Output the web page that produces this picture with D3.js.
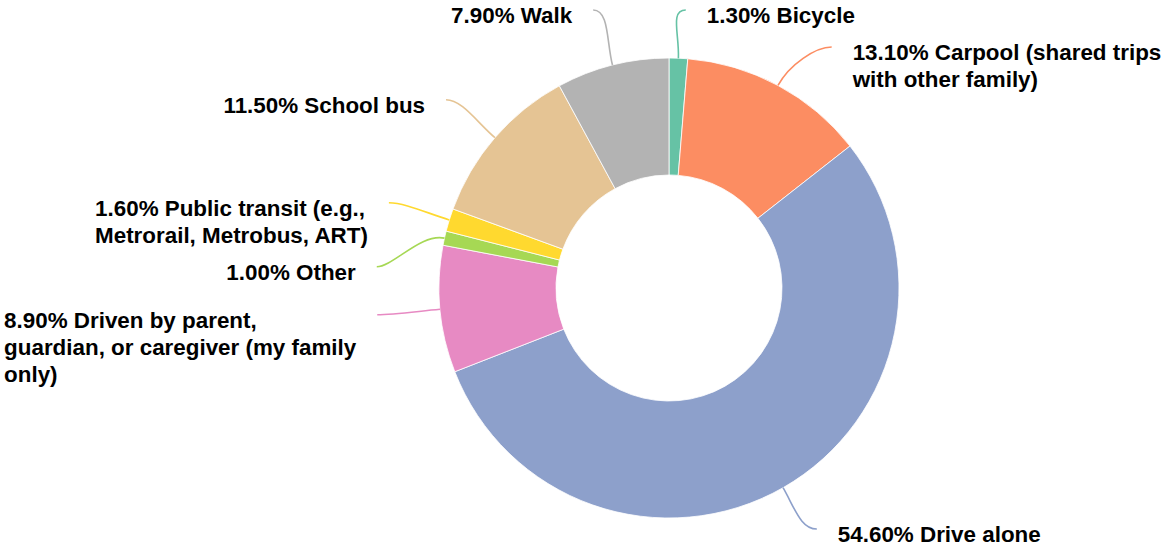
<html lang="en">
<head>
  <title>Mode of Travel</title>
  <meta charset="utf-8">
</head>

<script src="https://cdn.jsdelivr.net/npm/d3@7/dist/d3.min.js"></script>

<style>
  body { margin: 0; background: #fff; }
  .label { font-family: 'Liberation Sans', Arial, Helvetica, sans-serif; font-weight: bold; font-size: 22.4px; fill: #000; }
</style>

<body>
  <svg id = 'canvas' style = 'width: 1171px; height: 550px; display: block;'></svg>
</body>

<script>

// data (category names, broken where the labels wrap)
var categories = [['Bicycle'],
                  ['Carpool (shared trips', 'with other family)'],
                  ['Drive alone'],
                  ['Driven by parent,', 'guardian, or caregiver (my family', 'only)'],
                  ['Other'],
                  ['Public transit (e.g.,', 'Metrorail, Metrobus, ART)'],
                  ['School bus'],
                  ['Walk']];
var shares = [1.3, 13.1, 54.6, 8.9, 1.0, 1.6, 11.5, 7.9];
var colors = ['#66c2a5', '#fc8d62', '#8da0cb', '#e78ac3', '#a6d854', '#ffd92f', '#e5c494', '#b3b3b3'];

var cx = 669, cy = 288, r_outer = 230, r_inner = 113;
var r_label = 288, text_gap = 21, line_h = 27, pad = 10, top_min = 10, bottom_max = 542;

setup();

/*******************************************************************************/

function setup(){
  var svg = d3.select('#canvas');
  var rows = categories.map(function(c, i){ return { lines: c, share: shares[i], color: colors[i] } });

  var pie = d3.pie().sort(null).value(function(d){ return d.share });
  var arc = d3.arc().innerRadius(r_inner).outerRadius(r_outer);
  var arcs = pie(rows);

  var g = svg.append('g').attr('transform', 'translate(' +cx+ ',' +cy+ ')');

  g.selectAll('.slice').data(arcs).enter()
    .append('path').attr('class', 'slice')
    .attr('d', arc)
    .style('fill', function(d){ return d.data.color })
    .style('stroke', '#fff').style('stroke-width', 0.8);

  // label layout: leader ends on a ring, then pushed apart per side
  var labels = arcs.map(function(d){
    var mid = (d.startAngle + d.endAngle)/2;
    var side = Math.sin(mid) >= 0 ? 1 : -1;
    var lines = d.data.lines.slice();
    lines[0] = d3.format('.2f')(d.data.share) + '% ' + lines[0];
    return {
      d: d, mid: mid, side: side, lines: lines,
      sx: Math.sin(mid)*r_outer, sy: -Math.cos(mid)*r_outer,
      ex: Math.sin(mid)*r_label + side*5, ey: -Math.cos(mid)*r_label
    };
  });

  [1, -1].forEach(function(s){
    var list = labels.filter(function(l){ return l.side == s }).sort(function(a, b){ return a.ey - b.ey });
    list.forEach(function(l, i){
      if(i == 0){ l.ey = Math.max(l.ey, top_min - cy); return; }
      var prev = list[i-1];
      var need = prev.ey + prev.lines.length*line_h + pad;
      if(l.ey < need){
        // slide down along the ring
        l.ey = need;
        if(Math.abs(need) < r_label){ l.ex = s*(Math.sqrt(r_label*r_label - need*need) + 5); }
      }
    });
    for(var i = list.length - 1; i >= 0; i--){
      var l = list[i];
      var lim = (bottom_max - cy) - 13 - (l.lines.length - 1)*line_h;
      if(i < list.length - 1){ lim = Math.min(lim, list[i+1].ey - l.lines.length*line_h - pad); }
      l.ey = Math.min(l.ey, lim);
    }
  });

  g.selectAll('.leader').data(labels).enter()
    .append('path').attr('class', 'leader')
    .attr('d', function(l){
      var p = d3.path();
      var ux = Math.sin(l.mid), uy = -Math.cos(l.mid);
      p.moveTo(l.sx, l.sy);
      p.bezierCurveTo(l.sx + ux*24, l.sy + uy*24, l.ex - l.side*16, l.ey, l.ex, l.ey);
      return p.toString();
    })
    .style('fill', 'none').style('stroke', function(l){ return l.d.data.color }).style('stroke-width', 1.6);

  labels.forEach(function(l){
    var t = g.append('text').attr('class', 'label');
    var block_w = d3.max(l.lines, function(s){ return measure(g, s) });
    var x0 = l.side > 0 ? l.ex + text_gap : l.ex - text_gap - block_w;
    l.lines.forEach(function(s, i){
      t.append('tspan').attr('x', x0).attr('y', l.ey + 13 + i*line_h).text(s);
    });
  });
}

function measure(g, s){
  var t = g.append('text').attr('class', 'label').text(s);
  var w = t.node().getComputedTextLength();
  t.remove();
  return w;
}

</script>
</html>
